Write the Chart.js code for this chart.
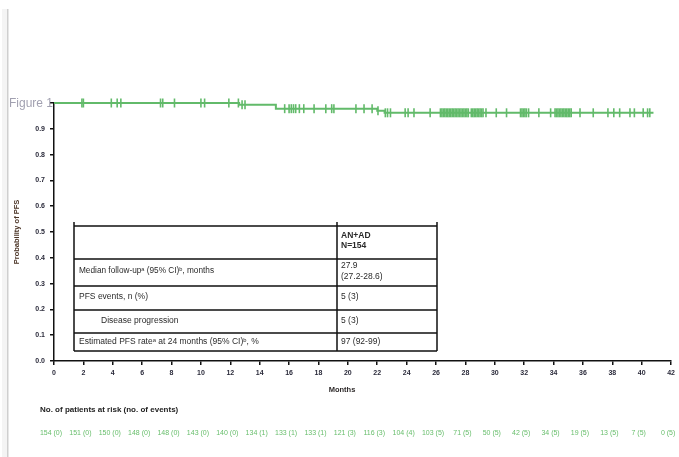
<!DOCTYPE html>
<html>
<head>
<meta charset="utf-8">
<script src="https://cdn.jsdelivr.net/npm/chart.js@4.4.1/dist/chart.umd.min.js"></script>
<style>
  html, body { margin: 0; padding: 0; background: #fff; }
  #wrap { position: relative; width: 679px; height: 457px; }
  canvas { display: block; }
</style>
</head>
<body>
<div id="wrap"><canvas id="km" width="679" height="457"></canvas></div>
<script>
// Kaplan-Meier steps: time (months) and estimated PFS probability after each event
const stepTimes = [0, 12.6, 15.1, 22.0, 22.5, 40.8];
const stepSurv  = [1.0, 0.993, 0.978, 0.970, 0.962, 0.962];

// Censoring times (months)
const censorTimes = [
  1.9, 2.0, 3.9, 4.3, 4.55, 7.25, 7.4, 8.2, 10.0, 10.25, 11.9, 12.55, 12.8, 13.0,
  15.7, 16.0, 16.15, 16.3, 16.45, 16.7, 17.0, 17.7, 18.5, 18.9, 19.05,
  20.55, 21.1, 21.65, 22.05, 22.55, 22.7, 22.9, 23.9, 24.1, 24.5, 25.6,
  26.3, 26.4, 26.5, 26.6, 26.7, 26.8, 26.9, 27.0, 27.1, 27.2, 27.3, 27.4, 27.5,
  27.6, 27.7, 27.8, 27.9, 28.0, 28.1, 28.2,
  28.4, 28.5, 28.6, 28.7, 28.8, 28.9, 29.0, 29.1, 29.2,
  29.4, 30.1, 30.8, 31.75, 31.85, 31.95, 32.05, 32.15, 32.3, 33.0, 33.8,
  34.1, 34.2, 34.3, 34.4, 34.5, 34.6, 34.7, 34.8, 34.9, 35.0, 35.1, 35.2,
  35.8, 36.7, 37.7, 38.1, 38.5, 39.2, 39.5, 40.1, 40.4, 40.55
];

// Number at risk (cumulative events) at each 2-month tick
const riskMonths = [0, 2, 4, 6, 8, 10, 12, 14, 16, 18, 20, 22, 24, 26, 28, 30, 32, 34, 36, 38, 40, 42];
const atRisk     = [154, 151, 150, 148, 148, 143, 140, 134, 133, 133, 121, 116, 104, 103, 71, 50, 42, 34, 19, 13, 7, 0];
const atRiskEvts = [0, 0, 0, 0, 0, 0, 0, 1, 1, 1, 3, 3, 4, 5, 5, 5, 5, 5, 5, 5, 5, 5];

// Summary table
const tableHeader = ['AN+AD', 'N=154'];
const tableLabels = [
  'Median follow-up\u1D43 (95% CI)\u1D47, months',
  'PFS events, n (%)',
  'Disease progression',
  'Estimated PFS rate\u1D43 at 24 months (95% CI)\u1D47, %'
];
const tableValues = [
  ['27.9', '(27.2-28.6)'],
  ['5 (3)'],
  ['5 (3)'],
  ['97 (92-99)']
];

const GREEN = 'rgb(98,186,106)';
const FONT = "'Liberation Sans', Arial, sans-serif";

function survAt(t) {
  let s = stepSurv[0];
  for (let i = 0; i < stepTimes.length; i++) {
    if (stepTimes[i] <= t) s = stepSurv[i];
  }
  return s;
}

const curve = stepTimes.map((t, i) => ({ x: t, y: stepSurv[i] }));
const censors = censorTimes.map(t => ({ x: t, y: survAt(t) }));

const decorations = {
  id: 'decorations',
  beforeDraw(chart) {
    const ctx = chart.ctx;
    ctx.save();
    // page edge strip
    ctx.fillStyle = '#f4f4f4';
    ctx.fillRect(2, 9, 5, 448);
    ctx.fillStyle = '#cfcfcf';
    ctx.fillRect(7, 9, 1.5, 448);
    ctx.restore();
  },
  afterDraw(chart) {
    const ctx = chart.ctx;
    const xs = chart.scales.x;
    const ca = chart.chartArea;
    ctx.save();

    // figure caption
    ctx.fillStyle = 'rgba(130,128,150,0.75)';
    ctx.font = '12px ' + FONT;
    ctx.textAlign = 'left';
    ctx.textBaseline = 'middle';
    ctx.fillText('Figure 1', 9, 104);

    // axis titles
    ctx.fillStyle = '#2e2a2a';
    ctx.font = 'bold 7.5px ' + FONT;
    ctx.textAlign = 'center';
    ctx.fillText('Months', 342, 390);
    ctx.save();
    ctx.translate(17, (ca.top + ca.bottom) / 2);
    ctx.rotate(-Math.PI / 2);
    ctx.fillStyle = '#4a3325';
    ctx.fillText('Probability of PFS', 0, 0);
    ctx.restore();

    // summary table
    const L = 74, M = 337, R = 437;
    const rowsY = [226, 259, 286, 310, 333, 351];
    ctx.strokeStyle = '#111';
    ctx.lineWidth = 1.5;
    ctx.beginPath();
    rowsY.forEach(y => { ctx.moveTo(L, y); ctx.lineTo(R, y); });
    [L, M, R].forEach(x => { ctx.moveTo(x, 222); ctx.lineTo(x, 351); });
    ctx.stroke();

    ctx.fillStyle = '#2a2a2a';
    ctx.textAlign = 'left';
    ctx.textBaseline = 'middle';
    ctx.font = 'bold 8.5px ' + FONT;
    ctx.fillText(tableHeader[0], 341, 236);
    ctx.fillText(tableHeader[1], 341, 246);

    ctx.font = '8.5px ' + FONT;
    const labelY = [271, 297, 321, 342];
    const labelX = [79, 79, 101, 79];
    const labelW = [135, 95, 108, 245];
    tableLabels.forEach((t, i) => ctx.fillText(t, labelX[i], labelY[i], labelW[i]));
    tableValues.forEach((vals, i) => {
      if (vals.length === 2) {
        ctx.fillText(vals[0], 341, labelY[i] - 5.5);
        ctx.fillText(vals[1], 341, labelY[i] + 5.5);
      } else {
        ctx.fillText(vals[0], 341, labelY[i]);
      }
    });

    // number at risk
    ctx.fillStyle = '#222';
    ctx.font = 'bold 8px ' + FONT;
    ctx.textAlign = 'left';
    ctx.fillText('No. of patients at risk (no. of events)', 40, 410);

    ctx.fillStyle = 'rgb(104,190,108)';
    ctx.font = '7px ' + FONT;
    ctx.textAlign = 'center';
    riskMonths.forEach((m, i) => {
      const x = xs.getPixelForValue(m) - 3;
      ctx.fillText(atRisk[i] + ' (' + atRiskEvts[i] + ')', x, 433);
    });

    ctx.restore();
  }
};

new Chart(document.getElementById('km'), {
  type: 'scatter',
  data: {
    datasets: [
      {
        type: 'line',
        data: curve,
        borderColor: GREEN,
        borderWidth: 2,
        stepped: 'before',
        pointRadius: 0,
        fill: false,
        clip: false
      },
      {
        type: 'scatter',
        data: censors,
        pointStyle: 'line',
        rotation: 90,
        radius: 4.5,
        borderColor: GREEN,
        borderWidth: 1.6,
        backgroundColor: GREEN,
        clip: false
      }
    ]
  },
  options: {
    responsive: false,
    animation: false,
    devicePixelRatio: 1,
    layout: { padding: { top: 103, right: 6, bottom: 72, left: 0 } },
    plugins: { legend: { display: false }, tooltip: { enabled: false } },
    scales: {
      x: {
        type: 'linear',
        min: 0,
        max: 42,
        afterFit: s => { s.height = 24; },
        ticks: {
          stepSize: 2,
          autoSkip: false,
          maxRotation: 0,
          padding: 4,
          color: '#2a2a3a',
          font: { family: FONT, size: 7, weight: 'bold' }
        },
        grid: { drawOnChartArea: false, drawTicks: true, tickLength: 4, color: '#111', lineWidth: 1.5 },
        border: { color: '#111', width: 1.5 }
      },
      y: {
        min: 0,
        max: 1,
        afterFit: s => { s.width = 54; },
        ticks: {
          stepSize: 0.1,
          padding: 5,
          color: '#2a2a3a',
          font: { family: FONT, size: 7, weight: 'bold' },
          callback: v => (Math.abs(v - 1) < 1e-9 ? '' : v.toFixed(1))
        },
        grid: { drawOnChartArea: false, drawTicks: true, tickLength: 4, color: '#111', lineWidth: 1.5 },
        border: { color: '#111', width: 1.5 }
      }
    }
  },
  plugins: [decorations]
});
</script>
</body>
</html>
